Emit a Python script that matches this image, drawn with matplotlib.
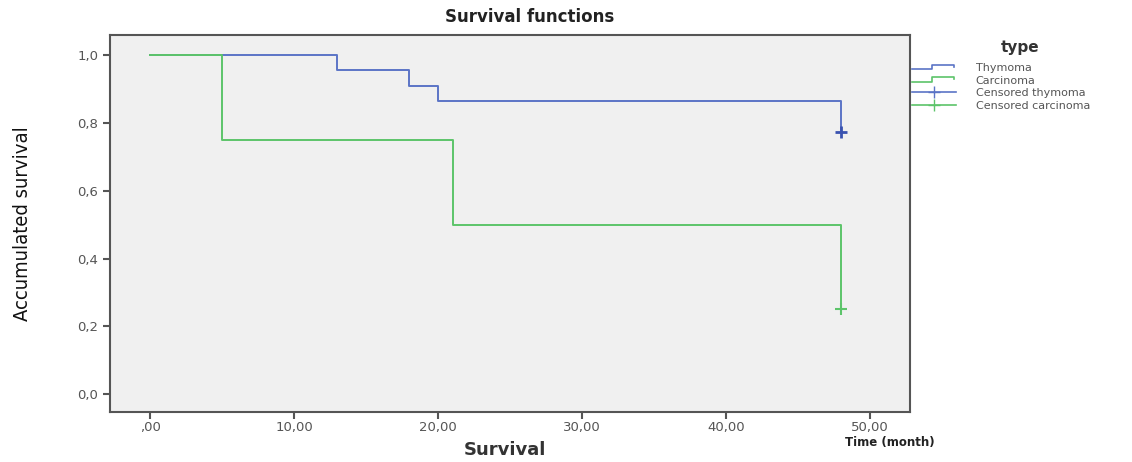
import matplotlib
matplotlib.use('Agg')
import numpy as np
import matplotlib.pyplot as plt
from matplotlib.lines import Line2D
from matplotlib.legend_handler import HandlerBase

# Kaplan-Meier steps
thy_times = [0, 13, 18, 20, 48]
thy_surv = [1.0, 0.955, 0.909, 0.864, 0.773]
car_times = [0, 5, 21, 48]
car_surv = [1.0, 0.75, 0.50, 0.25]
thy_cens_t = [48]
thy_cens_s = [0.773]
car_cens_t = [48]
car_cens_s = [0.25]

xticks = [0, 10, 20, 30, 40, 50]
xticklabels = [',00', '10,00', '20,00', '30,00', '40,00', '50,00']
yticks = [0.0, 0.2, 0.4, 0.6, 0.8, 1.0]
yticklabels = ['0,0', '0,2', '0,4', '0,6', '0,8', '1,0']

blue = '#5b74c6'
green = '#5cc46a'
grey_txt = '#555555'
spine_col = '#555555'


class StepHandler(HandlerBase):
    def create_artists(self, legend, orig, xd, yd, w, h, fontsize, trans):
        y0 = yd + h * 0.2
        y1 = yd + h * 0.8
        xs = [xd, xd + w * 0.45, xd + w * 0.45, xd + w * 0.95, xd + w * 0.95]
        ys = [y0, y0, y1, y1, y0 + h * 0.35]
        ln = Line2D(xs, ys, color=orig.get_color(), lw=1.2, transform=trans)
        return [ln]


fig = plt.figure(figsize=(11.32, 4.62), dpi=100)
ax = fig.add_axes([0.0972, 0.108, 0.7068, 0.816])
ax.set_facecolor('#f0f0f0')

ax.step(thy_times, thy_surv, where='post', color=blue, lw=1.4)
ax.step(car_times, car_surv, where='post', color=green, lw=1.4)
ax.plot(thy_cens_t, thy_cens_s, '+', color='#3a52b0', ms=9, mew=2)
ax.plot(car_cens_t, car_cens_s, '+', color=green, ms=9, mew=1.5)

ax.set_xlim(-2.8, 52.8)
ax.set_ylim(-0.053, 1.059)
ax.set_xticks(xticks)
ax.set_xticklabels(xticklabels)
ax.set_yticks(yticks)
ax.set_yticklabels(yticklabels)
ax.tick_params(axis='both', colors=spine_col, labelcolor=grey_txt,
               labelsize=9.5, length=5, width=1.5, direction='out')
ax.tick_params(axis='x', pad=1.5)
for s in ax.spines.values():
    s.set_color(spine_col)
    s.set_linewidth(1.5)

fig.text(0.468, 0.963, 'Survival functions', ha='center', va='center',
         fontsize=12, fontweight='bold', color='#222222')
fig.text(0.446, 0.025, 'Survival', ha='center', va='center',
         fontsize=13, fontweight='bold', color='#333333')
fig.text(0.786, 0.043, 'Time (month)', ha='center', va='center',
         fontsize=8.5, fontweight='bold', color='#222222')
fig.text(0.02, 0.515, 'Accumulated survival', ha='center', va='center',
         rotation=90, fontsize=14.5, color='#111111',
         family='DejaVu Sans', fontstretch='condensed')

handles = [Line2D([], [], color=blue), Line2D([], [], color=green),
           Line2D([], [], color=blue, marker='+', ms=8, lw=1.2),
           Line2D([], [], color=green, marker='+', ms=8, lw=1.2)]
labels = ['Thymoma', 'Carcinoma', 'Censored thymoma', 'Censored carcinoma']
leg = fig.legend(handles, labels, loc='upper left', bbox_to_anchor=(0.806, 0.864),
                 frameon=False, fontsize=8, borderpad=0, borderaxespad=0,
                 handlelength=3.9, handletextpad=1.8, labelspacing=0.25,
                 handler_map={handles[0]: StepHandler(), handles[1]: StepHandler()})
for t in leg.get_texts():
    t.set_color(grey_txt)
fig.text(0.901, 0.898, 'type', ha='center', va='center',
         fontsize=11, fontweight='bold', color='#333333')

fig.savefig('out.png', dpi=100)
